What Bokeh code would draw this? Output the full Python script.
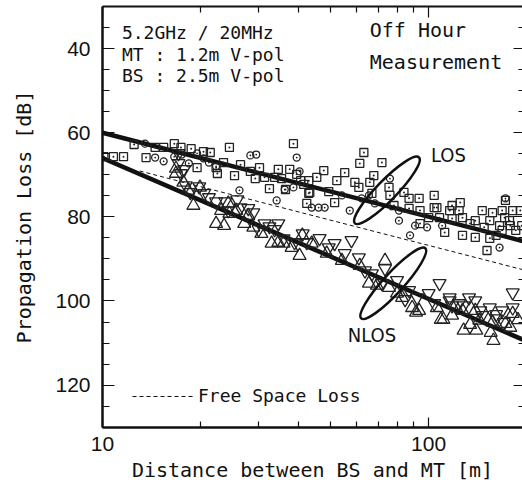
from bokeh.plotting import figure
from bokeh.models import (Range1d, LinearAxis, LogAxis, FixedTicker, PrintfTickFormatter,
                          Label, Legend, LegendItem)
from bokeh.embed import file_html
from bokeh.resources import INLINE

# ---------------- data ----------------
# LOS, squares
los_sq_d = [10.1, 10.8, 11.6, 12.5, 13.6, 14.5, 15.4, 16.6, 17.4, 18.7, 20.4, 21.4, 19.5, 22.5, 22.3,
            23.5, 24.5, 25.4, 26.5, 28.4, 29.4, 30.3, 31.4, 32.5, 33.7, 34.6, 35.4, 36.4, 37.5, 38.5,
            39.4, 40.5, 41.4, 42.3, 42.9, 63.3, 71.9, 61.5, 55.3, 47.7, 45.4, 42.9, 52.3, 59.4, 66.0,
            67.9, 61.1, 75.6, 49.4, 43.2, 51.5, 67.0, 76.1, 84.0, 87.1, 93.5, 104, 78.3, 87.1, 94.1,
            100, 106, 108, 118, 125, 118, 127, 112, 127, 134, 139, 148, 139, 151, 157, 165, 171, 172,
            181, 178, 154, 161, 185, 94.1, 104, 191, 193, 146, 154, 168, 177, 168, 116, 124]
los_sq_db = [65.7, 65.7, 65.7, 62.8, 65.9, 63.5, 63.5, 62.6, 63.5, 63.8, 64.5, 64.7, 68.3, 69.7, 68.3,
             67.1, 63.5, 70.2, 67.6, 69.2, 70.9, 68.3, 70.6, 73.3, 70.6, 68.7, 70.9, 73.5, 68.7, 62.6,
             69.9, 71.4, 72.3, 76.8, 74.4, 64.7, 67.1, 67.3, 69.5, 69.0, 70.6, 71.4, 71.4, 71.8, 71.8,
             70.2, 73.0, 73.0, 74.0, 74.2, 76.6, 74.4, 74.9, 74.2, 75.6, 75.6, 74.9, 77.3, 78.0, 78.5,
             80.2, 77.8, 80.2, 77.3, 76.6, 80.4, 80.2, 83.7, 84.4, 81.6, 80.9, 82.5, 84.9, 88.0, 79.0,
             82.1, 80.2, 76.1, 78.5, 82.1, 85.1, 84.4, 83.2, 81.6, 77.8, 78.5, 82.1, 78.5, 80.9, 78.5,
             80.9, 83.2, 78.5, 78.5]
# LOS, circles
los_ci_d = [13.5, 14.5, 15.4, 16.6, 17.5, 18.4, 19.5, 20.4, 21.2, 22.3, 26.3, 28.4, 29.6, 34.2, 39.4,
            40.2, 38.5, 36.2, 76.1, 65.6, 68.4, 57.3, 62.3, 81.1, 81.1, 90.9, 98.9, 87.7, 46.0, 48.0,
            54.2, 172, 165, 110, 43.8]
los_ci_db = [62.6, 65.9, 66.8, 65.7, 65.2, 67.3, 64.9, 66.1, 67.1, 68.0, 73.7, 65.4, 65.2, 76.1, 65.9,
             69.2, 73.0, 73.5, 70.9, 74.9, 76.8, 78.5, 75.6, 78.5, 80.9, 82.1, 82.5, 84.4, 77.8, 77.8,
             74.9, 75.6, 87.3, 82.1, 77.8]
# NLOS, inverted triangles
nlos_dn_d = [17.1, 17.1, 17.8, 17.4, 18.0, 18.6, 19.8, 20.5, 21.2, 22.3, 23.8, 25.9, 26.5, 24.3, 28.0,
             29.0, 31.4, 32.5, 34.6, 33.7, 30.1, 35.9, 38.8, 41.1, 42.3, 46.3, 51.5, 58.0, 55.3, 61.1,
             67.0, 73.5, 80.0, 87.1, 92.2, 100, 108, 116, 124, 133, 139, 154, 168, 181, 181, 104,
             71.9, 49.4, 63.8, 118, 146, 161, 84.7, 116, 128, 144, 161, 170]
nlos_dn_db = [64.9, 67.3, 68.7, 69.7, 72.6, 74.2, 72.8, 74.4, 75.4, 76.4, 76.4, 75.9, 77.8, 78.5, 78.0,
              79.0, 81.6, 82.3, 81.6, 83.0, 83.0, 85.2, 86.1, 84.0, 86.1, 85.1, 86.3, 85.6, 88.7, 89.7,
              93.5, 92.3, 95.1, 97.5, 99.2, 98.2, 95.8, 99.2, 100.6, 99.2, 99.9, 101.6, 102.3, 98.0,
              101.6, 100.6, 95.8, 87.3, 92.8, 101.1, 103.4, 104.2, 99.6, 99.9, 101.1, 102.3, 103.2, 105.1]
# NLOS, triangles
nlos_up_d = [16.8, 16.8, 17.7, 19.0, 18.3, 19.9, 22.3, 23.6, 24.5, 23.1, 24.3, 25.7, 27.2, 29.0, 30.7,
             33.0, 35.9, 38.0, 40.2, 41.0, 34.6, 28.0, 43.8, 48.7, 54.2, 61.5, 73.5, 65.6, 75.6, 82.9,
             89.0, 106, 118, 127, 143, 157, 172, 181, 93.5, 139, 158, 140, 178, 91.5, 109, 69.4, 80.0,
             111, 134, 155, 128, 188]
nlos_up_db = [68.5, 69.7, 71.8, 77.3, 73.7, 73.0, 81.6, 82.1, 79.2, 78.5, 76.8, 78.5, 81.6, 82.5, 84.0,
              86.3, 86.3, 87.3, 89.2, 84.4, 86.1, 79.7, 86.3, 88.7, 90.4, 91.6, 90.4, 95.8, 96.8, 99.2,
              101.6, 101.6, 103.4, 102.3, 104.6, 105.1, 105.4, 103.0, 102.3, 102.3, 109.4, 107.0, 106.3,
              102.7, 104.4, 96.3, 98.2, 104.4, 105.6, 107.5, 107.0, 104.5]
# regression / reference lines (end points)
los_fit_d = [10, 200]
los_fit_db = [60.0, 86.0]
nlos_fit_d = [10, 200]
nlos_fit_db = [66.0, 109.6]
fsl_d = [13, 200]
fsl_db = [69.1, 92.8]

y_tick_values = [40, 60, 80, 100, 120]
y_minor_values = [35, 40, 45, 50, 55, 60, 65, 70, 75, 80, 85, 90, 95, 100, 105, 110, 115, 120, 125, 130]
x_tick_values = [10, 100]
x_minor_values = [20, 30, 40, 50, 60, 70, 80, 90, 200]

MONO = "DejaVu Sans Mono"
INK = "#111111"
MK = "#222222"

p = figure(width=522, height=494, x_axis_type="log",
           x_range=Range1d(10, 194), y_range=Range1d(130.07, 30.0),
           output_backend="svg", toolbar_location=None,
           min_border_left=102, min_border_right=0, min_border_top=6, min_border_bottom=67,
           background_fill_color="white", border_fill_color="white")
p.outline_line_color = None
p.xgrid.visible = False
p.ygrid.visible = False


def style_axis(ax, ticks, minor, major_in, minor_in, line_w, labels=True):
    ax.ticker = FixedTicker(ticks=ticks, minor_ticks=minor)
    ax.major_tick_out = 0
    ax.minor_tick_out = 0
    ax.major_tick_in = major_in
    ax.minor_tick_in = minor_in
    ax.major_tick_line_color = INK
    ax.minor_tick_line_color = INK
    ax.major_tick_line_width = 1.2
    ax.minor_tick_line_width = 1.2
    ax.axis_line_width = line_w
    ax.axis_line_color = INK
    ax.formatter = PrintfTickFormatter(format="%d")
    if labels:
        ax.major_label_text_font = "Liberation Sans"
        ax.major_label_text_font_size = "21px"
        ax.major_label_text_color = INK
    else:
        ax.major_label_text_font_size = "1px"
        ax.major_label_text_color = None
        ax.major_label_standoff = 0


yl = p.yaxis[0]
style_axis(yl, y_tick_values, y_minor_values, 12, 7, 2.5)
yl.major_label_standoff = 12
yl.axis_label = "Propagation Loss [dB]"
yl.axis_label_text_font = MONO
yl.axis_label_text_font_size = "20px"
yl.axis_label_text_font_style = "normal"
yl.axis_label_text_color = INK
yl.axis_label_standoff = 16

xb = p.xaxis[0]
style_axis(xb, x_tick_values, x_minor_values, 10, 6, 2.5)
xb.major_label_standoff = 9
xb.axis_label = "Distance between BS and MT [m]"
xb.axis_label_text_font = MONO
xb.axis_label_text_font_size = "20px"
xb.axis_label_text_font_style = "normal"
xb.axis_label_text_color = INK
xb.axis_label_standoff = 4

xt = LogAxis()
style_axis(xt, x_tick_values, x_minor_values, 11, 6, 2, labels=False)
p.add_layout(xt, "above")

yr = LinearAxis()
style_axis(yr, y_tick_values, y_minor_values, 9, 4, 2, labels=False)
yr.axis_line_color = None
p.add_layout(yr, "right")

# lines
p.line(los_fit_d, los_fit_db, line_color=INK, line_width=4.5)
p.line(nlos_fit_d, nlos_fit_db, line_color=INK, line_width=4.5)
fsl = p.line(fsl_d, fsl_db, line_color=INK, line_width=1, line_dash="4 3")

# markers
p.scatter(los_sq_d, los_sq_db, marker="square_dot", size=8, fill_color=None,
          line_color=MK, line_width=1.3)
p.scatter(los_ci_d, los_ci_db, marker="circle_dot", size=7, fill_color=None,
          line_color=MK, line_width=1.3)
p.scatter(nlos_dn_d, nlos_dn_db, marker="inverted_triangle", size=13, fill_color=None,
          line_color=MK, line_width=1.3)
p.scatter(nlos_up_d, nlos_up_db, marker="triangle", size=13, fill_color=None,
          line_color=MK, line_width=1.3)

# grouping ellipses
p.ellipse(x=[74.5], y=[73.7], width=92, height=20, angle=0.8,
          width_units="screen", height_units="screen",
          fill_color=None, line_color=INK, line_width=2.5)
p.ellipse(x=[77.9], y=[95.8], width=95, height=20, angle=0.83,
          width_units="screen", height_units="screen",
          fill_color=None, line_color=INK, line_width=2.5)

NARROW = "Liberation Sans Narrow, DejaVu Sans Condensed, Liberation Sans"
p.add_layout(Label(x=115, y=65.4, text="LOS", text_font=NARROW, text_font_size="20px",
                   text_align="center", text_baseline="middle", text_color=INK))
p.add_layout(Label(x=67.0, y=108.2, text="NLOS", text_font=NARROW, text_font_size="20px",
                   text_align="center", text_baseline="middle", text_color=INK))

for txt, yv in [("5.2GHz / 20MHz", 36.1), ("MT : 1.2m V-pol", 41.3), ("BS : 2.5m V-pol", 46.4)]:
    p.add_layout(Label(x=11.47, y=yv, text=txt, text_font=MONO, text_font_size="18px",
                       text_align="left", text_baseline="middle", text_color=INK))
for txt, yv in [("Off Hour", 35.5), ("Measurement", 43.3)]:
    p.add_layout(Label(x=66.0, y=yv, text=txt, text_font=MONO, text_font_size="20px",
                       text_align="left", text_baseline="middle", text_color=INK))

legend = Legend(items=[LegendItem(label="Free Space Loss", renderers=[fsl])],
                location=(30, 21), padding=0, margin=0, spacing=0,
                glyph_width=63, glyph_height=20, label_standoff=3,
                label_text_font=MONO, label_text_font_size="18px", label_text_color=INK,
                border_line_color=None, background_fill_alpha=0)
p.add_layout(legend)

open("out.html", "w").write(file_html(p, INLINE))
